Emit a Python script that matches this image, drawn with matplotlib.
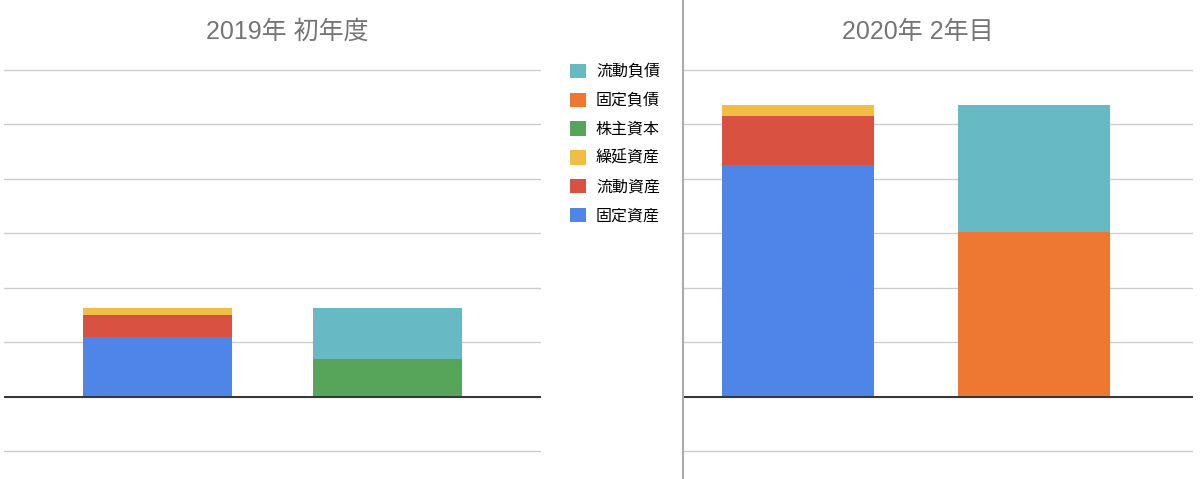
import matplotlib.pyplot as plt
from matplotlib.patches import Patch
from matplotlib.lines import Line2D
import numpy as np

plt.rcParams['font.family'] = ['Noto Sans CJK JP', 'DejaVu Sans']

# データ (グリッド1目盛り = 1 単位として読み取り)
categories = ['資産', '負債・純資産']
titles = ['2019年 初年度', '2020年 2年目']
series_names = ['固定資産', '流動資産', '繰延資産', '株主資本', '固定負債', '流動負債']
colors = ['#5085E8', '#D95141', '#F2BD45', '#57A55B', '#EE7731', '#67B9C3']

values_2019 = {
    '固定資産': [1.10, 0],
    '流動資産': [0.40, 0],
    '繰延資産': [0.13, 0],
    '株主資本': [0, 0.69],
    '固定負債': [0, 0],
    '流動負債': [0, 0.94],
}
values_2020 = {
    '固定資産': [4.26, 0],
    '流動資産': [0.89, 0],
    '繰延資産': [0.21, 0],
    '株主資本': [0, 0.02],
    '固定負債': [0, 3.01],
    '流動負債': [0, 2.33],
}

W, H = 1200, 479
fig = plt.figure(figsize=(W / 100, H / 100), dpi=100)

def px_axes(left, right, top, bottom):
    return fig.add_axes([left / W, 1 - bottom / H, (right - left) / W, (bottom - top) / H])

ax1 = px_axes(4, 541, 60, 470)
ax2 = px_axes(683, 1193, 60, 470)

x = np.arange(len(categories))
panels = [(ax1, values_2019, (-0.67, 1.67), 0.65),
          (ax2, values_2020, (-0.487, 1.674), 0.646)]

for ax, vals, xlim, width in panels:
    bottom = np.zeros(len(categories))
    for name, color in zip(series_names, colors):
        v = np.array(vals[name], dtype=float)
        ax.bar(x, v, width, bottom=bottom, color=color, label=name, zorder=2)
        bottom += v
    ax.set_xlim(*xlim)
    ax.set_ylim(-1.345, 6.18)
    ax.set_yticks(range(-1, 7))
    ax.yaxis.grid(True, color='#cccccc', linewidth=1)
    ax.set_axisbelow(True)
    ax.axhline(0, color='#333333', linewidth=1.4, zorder=3)
    ax.tick_params(left=False, bottom=False, labelleft=False, labelbottom=False)
    for s in ax.spines.values():
        s.set_visible(False)

title_font = ['Liberation Sans', 'Noto Sans CJK JP']
fig.text(287 / W, 1 - 32 / H, titles[0], ha='center', va='center', fontsize=18,
         color='#757575', family=title_font)
fig.text(918 / W, 1 - 32 / H, titles[1], ha='center', va='center', fontsize=18,
         color='#757575', family=title_font)

# 区切り線
fig.add_artist(Line2D([683 / W, 683 / W], [0, 1], color='#aaaaaa', linewidth=1.5))

handles = [Patch(facecolor=c, edgecolor='none') for c in colors][::-1]
labels = series_names[::-1]
fig.legend(handles, labels, loc='upper left', bbox_to_anchor=(556 / W, 1 - 49 / H),
           frameon=False, fontsize=11.5, handlelength=1.0, handleheight=1.0,
           handletextpad=0.6, labelspacing=0.74)

plt.savefig('out.png', dpi=100)
